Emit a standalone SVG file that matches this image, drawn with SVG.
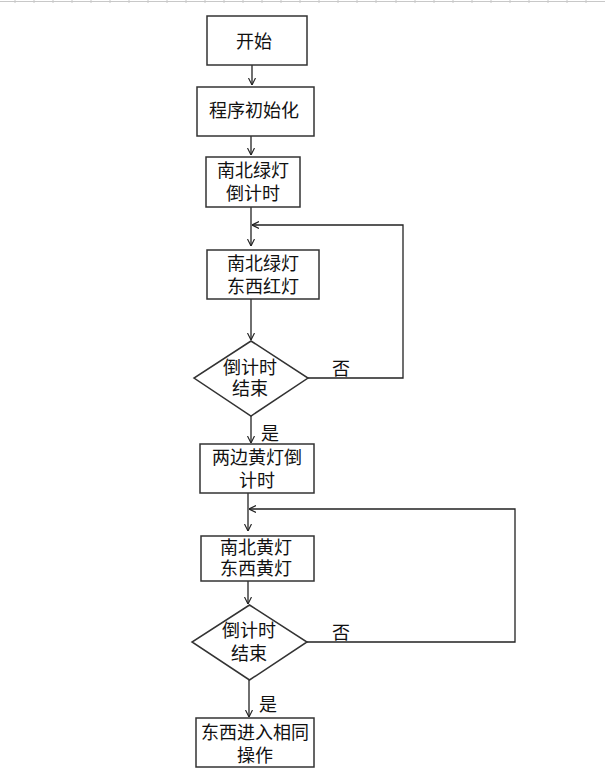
<svg xmlns="http://www.w3.org/2000/svg" width="605" height="781" viewBox="0 0 605 781">
<style>
.box{fill:#fff;stroke:#333;stroke-width:1.5}
.t{font-family:"Liberation Serif","Noto Sans CJK SC",serif;font-size:18px;fill:#111;text-anchor:middle}
.c{fill:none;stroke:#222;stroke-width:1.3}
.rl{stroke:#c8c8c8;stroke-width:1}
</style>
<defs>
<marker id="arr" markerUnits="userSpaceOnUse" viewBox="0 0 10 10" refX="10" refY="5" markerWidth="7" markerHeight="10" orient="auto">
<path d="M0,0 L10,5 L0,10" fill="none" stroke="#222" stroke-width="1.6"/>
</marker>
</defs>
<rect width="605" height="781" fill="#fff"/>
<g id="ruler">
<line class="rl" x1="0" y1="1.5" x2="605" y2="1.5"/>
<path class="rl" d="M15,0v3M34,0v3M53,0v3M72,0v3M91,0v3M110,0v3M129,0v3M148,0v3M167,0v3M186,0v3M205,0v3M224,0v3M243,0v3M262,0v3M281,0v3M300,0v3M319,0v3M338,0v3M357,0v3M376,0v3M396,0v3M415,0v3M434,0v3M453,0v3M472,0v3M491,0v3M510,0v3M529,0v3M548,0v3M567,0v3M586,0v3"/>
</g>
<g id="connectors">
<line class="c" x1="252" y1="65" x2="252" y2="85" marker-end="url(#arr)"/>
<line class="c" x1="251" y1="136" x2="251" y2="155" marker-end="url(#arr)"/>
<line class="c" x1="251" y1="207" x2="251" y2="246" marker-end="url(#arr)"/>
<line class="c" x1="251" y1="299" x2="251" y2="340" marker-end="url(#arr)"/>
<polyline class="c" points="308,378 403,378 403,225 252,225" marker-end="url(#arr)"/>
<line class="c" x1="251" y1="416" x2="251" y2="443" marker-end="url(#arr)"/>
<line class="c" x1="248" y1="493" x2="248" y2="531" marker-end="url(#arr)"/>
<polyline class="c" points="307,642 515,642 515,509 249,509" marker-end="url(#arr)"/>
<line class="c" x1="248" y1="581" x2="248" y2="604" marker-end="url(#arr)"/>
<line class="c" x1="249" y1="680" x2="249" y2="717" marker-end="url(#arr)"/>
<text class="t" x="341" y="375">否</text>
<text class="t" x="270" y="440">是</text>
<text class="t" x="341" y="639">否</text>
<text class="t" x="268" y="711">是</text>
</g>
<g id="start">
<rect class="box" x="207" y="16" width="100" height="49"/>
<text class="t" x="254" y="48">开始</text>
</g>
<g id="init">
<rect class="box" x="197" y="87" width="117" height="49"/>
<text class="t" x="254" y="117">程序初始化</text>
</g>
<g id="ns-green-countdown">
<rect class="box" x="206" y="157" width="94" height="50"/>
<text class="t" x="253" y="177">南北绿灯</text>
<text class="t" x="253" y="200">倒计时</text>
</g>
<g id="ns-green-ew-red">
<rect class="box" x="207" y="250" width="112" height="49"/>
<text class="t" x="263" y="270">南北绿灯</text>
<text class="t" x="263" y="293">东西红灯</text>
</g>
<g id="decision1">
<polygon class="box" points="251,341 308,378 251,416 194,378"/>
<text class="t" x="250" y="374">倒计时</text>
<text class="t" x="250" y="395">结束</text>
</g>
<g id="yellow-countdown">
<rect class="box" x="200" y="444" width="114" height="49"/>
<text class="t" x="257" y="464">两边黄灯倒</text>
<text class="t" x="257" y="487">计时</text>
</g>
<g id="ns-yellow-ew-yellow">
<rect class="box" x="201" y="536" width="113" height="45"/>
<text class="t" x="256" y="554">南北黄灯</text>
<text class="t" x="256" y="575">东西黄灯</text>
</g>
<g id="decision2">
<polygon class="box" points="249.5,605 307,642 249.5,680 192,642"/>
<text class="t" x="249" y="637">倒计时</text>
<text class="t" x="249" y="660">结束</text>
</g>
<g id="ew-same">
<rect class="box" x="196" y="718" width="118" height="49"/>
<text class="t" x="255" y="739">东西进入相同</text>
<text class="t" x="255" y="762">操作</text>
</g>
</svg>
